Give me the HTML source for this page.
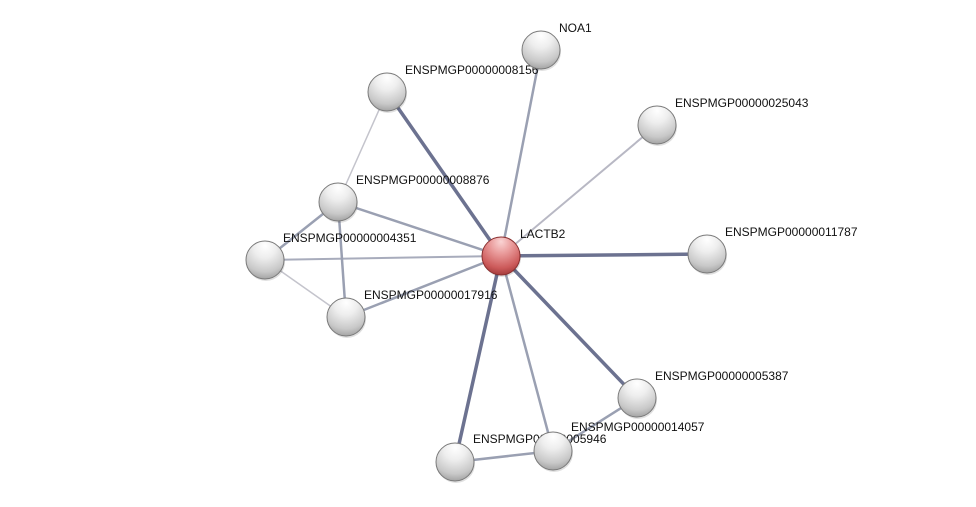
<!DOCTYPE html>
<html><head><meta charset="utf-8">
<style>
html,body{margin:0;padding:0;background:#fff;}
svg{display:block;}
text{font-family:"Liberation Sans",sans-serif;font-size:12px;fill:#111;}
</style></head>
<body>
<svg width="976" height="507" viewBox="0 0 976 507" xmlns="http://www.w3.org/2000/svg">
<defs>
<radialGradient id="g" cx="0.5" cy="0.2" r="0.85" fx="0.5" fy="0.12">
<stop offset="0" stop-color="#ffffff"/>
<stop offset="0.35" stop-color="#eeeeee"/>
<stop offset="0.75" stop-color="#c8c8c8"/>
<stop offset="1" stop-color="#9a9a9a"/>
</radialGradient>
<radialGradient id="r" cx="0.5" cy="0.2" r="0.85" fx="0.5" fy="0.12">
<stop offset="0" stop-color="#fad4d4"/>
<stop offset="0.35" stop-color="#e99a9a"/>
<stop offset="0.75" stop-color="#cc5a5a"/>
<stop offset="1" stop-color="#9a3434"/>
</radialGradient>
</defs>
<g stroke-linecap="round">
<line x1="501" y1="256" x2="541" y2="50" stroke="#9aa0b2" stroke-width="2.5"/>
<line x1="501" y1="256" x2="387" y2="92" stroke="#6c7290" stroke-width="3.5"/>
<line x1="501" y1="256" x2="657" y2="125" stroke="#b8b8c4" stroke-width="2"/>
<line x1="501" y1="256" x2="338" y2="202" stroke="#9aa0b2" stroke-width="2.5"/>
<line x1="501" y1="256" x2="265" y2="260" stroke="#a8acbc" stroke-width="2"/>
<line x1="501" y1="256" x2="707" y2="254" stroke="#6c7290" stroke-width="3.5"/>
<line x1="501" y1="256" x2="346" y2="317" stroke="#9aa0b2" stroke-width="2.5"/>
<line x1="501" y1="256" x2="637" y2="398" stroke="#6c7290" stroke-width="3.5"/>
<line x1="501" y1="256" x2="553" y2="451" stroke="#9aa0b2" stroke-width="2.5"/>
<line x1="501" y1="256" x2="455" y2="462" stroke="#6c7290" stroke-width="3.5"/>
<line x1="387" y1="92" x2="338" y2="202" stroke="#c4c4cc" stroke-width="1.5"/>
<line x1="338" y1="202" x2="265" y2="260" stroke="#9aa0b2" stroke-width="2.5"/>
<line x1="338" y1="202" x2="346" y2="317" stroke="#9aa0b2" stroke-width="2.5"/>
<line x1="265" y1="260" x2="346" y2="317" stroke="#c4c4cc" stroke-width="1.5"/>
<line x1="637" y1="398" x2="553" y2="451" stroke="#9aa0b2" stroke-width="2.5"/>
<line x1="553" y1="451" x2="455" y2="462" stroke="#9aa0b2" stroke-width="2.5"/>
</g>
<text x="559" y="32">NOA1</text>
<text x="405" y="74">ENSPMGP00000008156</text>
<text x="675" y="107">ENSPMGP00000025043</text>
<text x="356" y="184">ENSPMGP00000008876</text>
<text x="283" y="242">ENSPMGP00000004351</text>
<text x="520" y="238">LACTB2</text>
<text x="725" y="236">ENSPMGP00000011787</text>
<text x="364" y="299">ENSPMGP00000017916</text>
<text x="655" y="380">ENSPMGP00000005387</text>
<text x="571" y="431">ENSPMGP00000014057</text>
<text x="473" y="443">ENSPMGP00000005946</text>
<g>
<g fill="#000" opacity="0.12">
<circle cx="542" cy="52" r="19"/><circle cx="388" cy="94" r="19"/><circle cx="658" cy="127" r="19"/>
<circle cx="339" cy="204" r="19"/><circle cx="266" cy="262" r="19"/><circle cx="708" cy="256" r="19"/>
<circle cx="347" cy="319" r="19"/><circle cx="638" cy="400" r="19"/><circle cx="554" cy="453" r="19"/>
<circle cx="456" cy="464" r="19"/><circle cx="502" cy="258" r="19"/>
</g>
<g stroke="#7a7a7a" stroke-width="1">
<circle cx="541" cy="50" r="19" fill="url(#g)"/>
<circle cx="387" cy="92" r="19" fill="url(#g)"/>
<circle cx="657" cy="125" r="19" fill="url(#g)"/>
<circle cx="338" cy="202" r="19" fill="url(#g)"/>
<circle cx="265" cy="260" r="19" fill="url(#g)"/>
<circle cx="707" cy="254" r="19" fill="url(#g)"/>
<circle cx="346" cy="317" r="19" fill="url(#g)"/>
<circle cx="637" cy="398" r="19" fill="url(#g)"/>
<circle cx="553" cy="451" r="19" fill="url(#g)"/>
<circle cx="455" cy="462" r="19" fill="url(#g)"/>
<circle cx="501" cy="256" r="19" fill="url(#r)" stroke="#8a3030"/>
</g>
</g>
</svg>
</body></html>
